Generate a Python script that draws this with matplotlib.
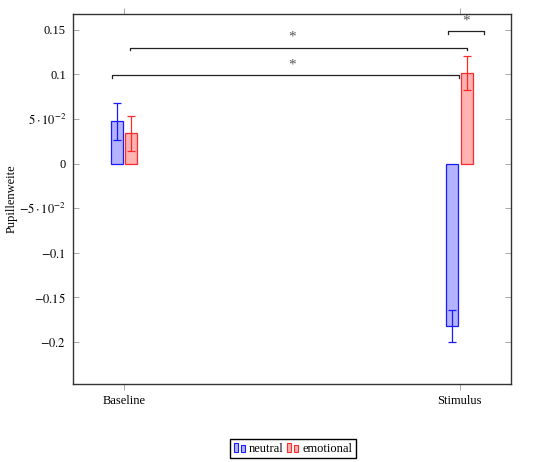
import matplotlib
matplotlib.use("Agg")
import matplotlib.pyplot as plt
import numpy as np
from matplotlib.legend_handler import HandlerBase
from matplotlib.patches import Rectangle

plt.rcParams['font.family'] = ['Liberation Serif', 'DejaVu Serif']
plt.rcParams['mathtext.fontset'] = 'stix'
plt.rcParams['font.size'] = 9

# data
categories = ['Baseline', 'Stimulus']
series = ['neutral', 'emotional']
neutral_vals = [0.0474, -0.1825]
neutral_err = [0.021, 0.018]
emotional_vals = [0.034, 0.1015]
emotional_err = [0.020, 0.019]

# significance brackets: x start, x end, height, star x, label
brackets = [
    (-0.036, 0.997, 0.0995, 0.5, '*'),
    (0.018, 1.020, 0.130, 0.5, '*'),
    (0.965, 1.073, 0.1485, 1.02, '*'),
]

edge_cols = ['#1a1aff', '#ff2a2a']
fill_cols = ['#b3b3ff', '#ffb3b3']


class TwoBars(HandlerBase):
    def create_artists(self, legend, orig_handle, xdescent, ydescent,
                       width, height, fontsize, trans):
        w = width * 0.32
        arts = []
        for x0, h in [(0.0, height), (width * 0.55, height * 0.8)]:
            r = Rectangle((x0 - xdescent, -ydescent), w, h,
                          facecolor=orig_handle.get_facecolor(),
                          edgecolor=orig_handle.get_edgecolor(),
                          linewidth=0.8, transform=trans)
            arts.append(r)
        return arts


fig = plt.figure(figsize=(5.4, 4.62), dpi=100)
ax = fig.add_axes([0.135, 0.169, 0.811, 0.801])

x = np.arange(len(categories))
bw = 0.036
off = 0.022
handles = []
for k, (vals, errs) in enumerate([(neutral_vals, neutral_err), (emotional_vals, emotional_err)]):
    pos = x + (-off if k == 0 else off)
    b = ax.bar(pos, vals, width=bw, color=fill_cols[k], edgecolor=edge_cols[k],
               linewidth=0.9, label=series[k])
    ax.errorbar(pos, vals, yerr=errs, fmt='none', ecolor=edge_cols[k],
                elinewidth=0.9, capsize=3, capthick=0.9)
    handles.append(b.patches[0])

tick_h = 0.003
for x0, x1, y, sx, lab in brackets:
    ax.plot([x0, x0, x1, x1], [y - tick_h, y, y, y - tick_h], color='#222222', lw=0.9)
    ax.text(sx, y + 0.0115, lab, ha='center', va='center',
            fontsize=11, color='#555555')

ax.set_xlim(-0.152, 1.152)
ax.set_ylim(-0.247, 0.168)
ax.set_xticks(x)
ax.set_xticklabels(categories)
yt = [0.15, 0.1, 0.05, 0, -0.05, -0.1, -0.15, -0.2]
ylabs = ['0.15', '0.1', r'$5\cdot10^{-2}$', '0', r'$-5\cdot10^{-2}$',
         r'$-0.1$', r'$-0.15$', r'$-0.2$']
ax.set_yticks(yt)
ax.set_yticklabels(ylabs)
ax.tick_params(axis='y', direction='in', left=True, right=True, length=4,
               color='#999999', width=0.6, pad=5)
ax.tick_params(axis='x', direction='out', top=True, bottom=True, length=4,
               color='#999999', width=0.6, pad=4)
for s in ax.spines.values():
    s.set_color('#333333')
    s.set_linewidth(1.0)
ax.set_ylabel('Pupillenweite')
ax.yaxis.set_label_coords(-0.125, 0.5)

fig.legend(handles, series, loc='center', bbox_to_anchor=(0.543, 0.029), ncol=2,
           handler_map={h: TwoBars() for h in handles}, frameon=True,
           fancybox=False, edgecolor='black', framealpha=1,
           handlelength=1.0, handletextpad=0.2, columnspacing=0.3,
           borderpad=0.3, fontsize=9)

fig.savefig('out.png', dpi=100)
